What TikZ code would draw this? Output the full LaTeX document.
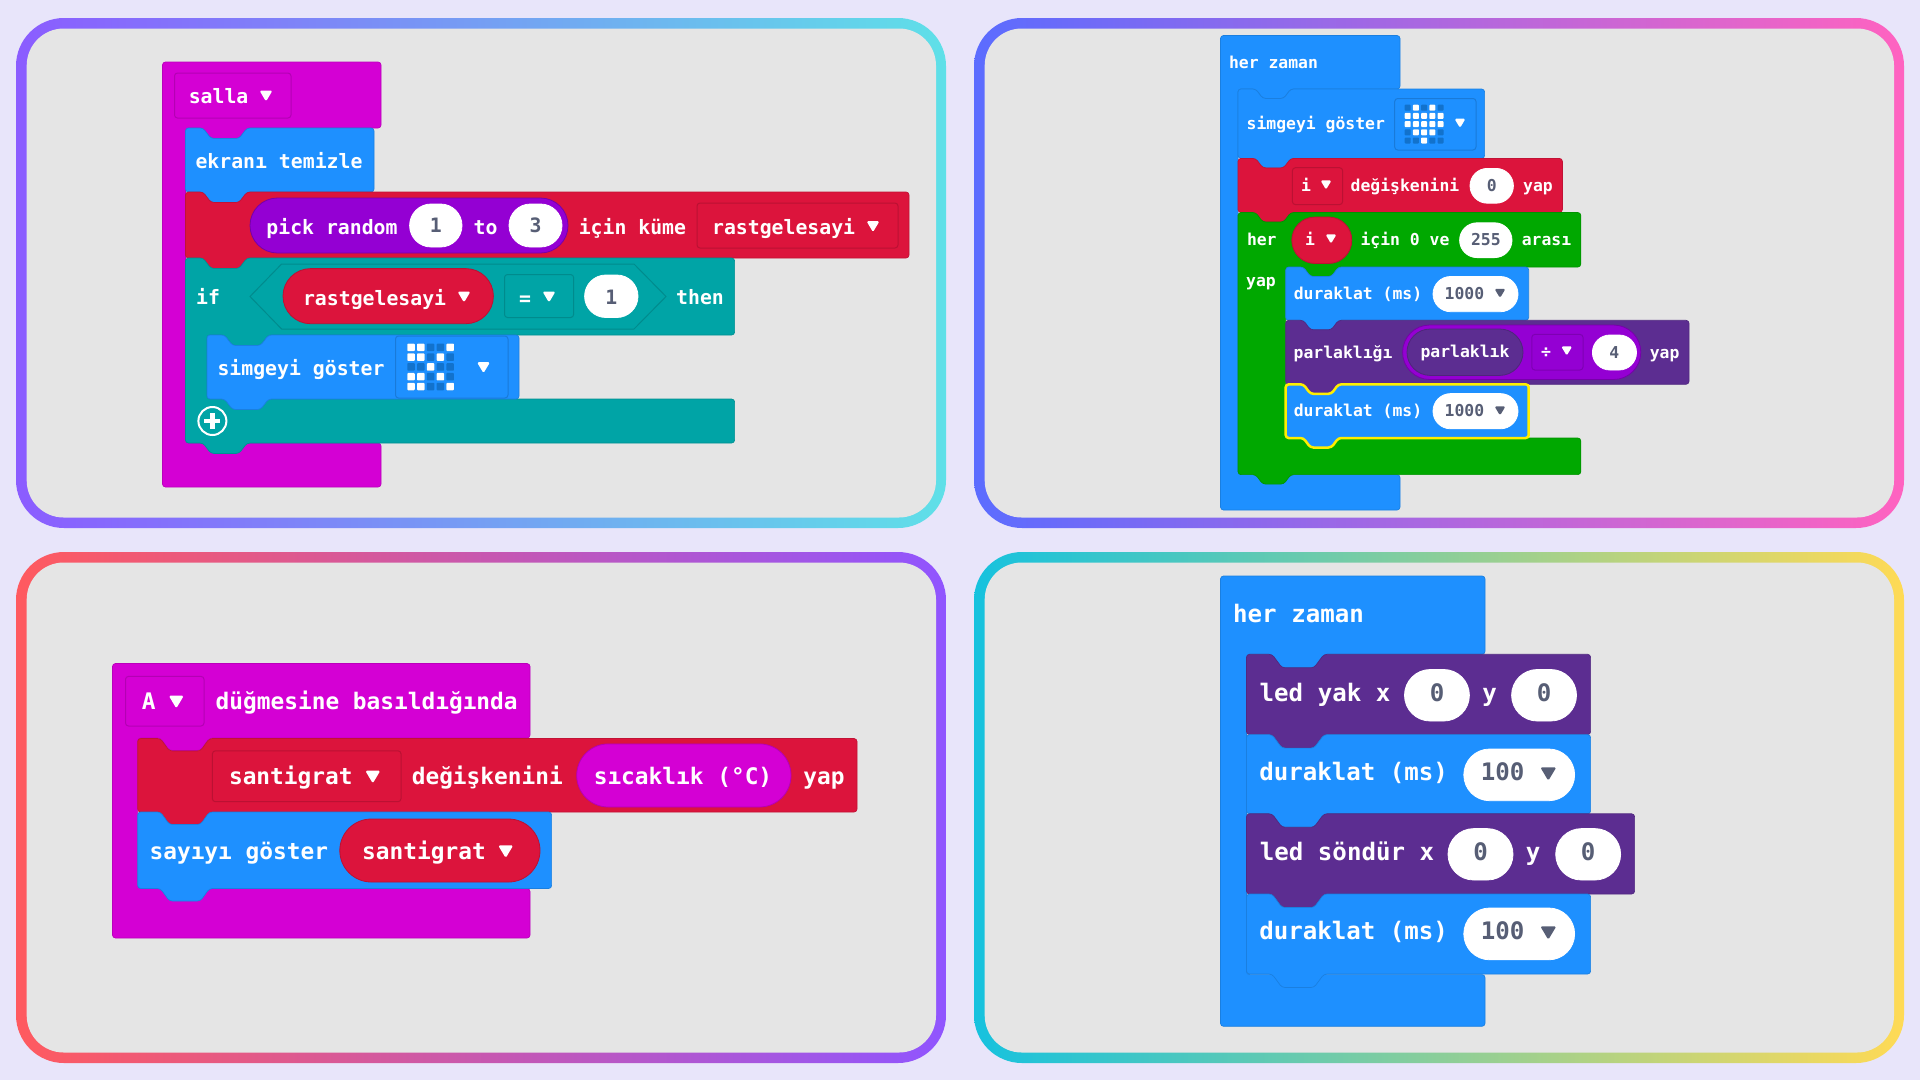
\documentclass[tikz,border=0pt]{standalone}
\usepackage{fontspec}
\newfontfamily\mfont{DejaVu Sans Mono}
\definecolor{bgc}{HTML}{E8E5FA}
\definecolor{panelc}{HTML}{E5E5E5}
\definecolor{cblue}{HTML}{1E90FF}
\definecolor{cred}{HTML}{DC143C}
\definecolor{cgreen}{HTML}{00A800}
\definecolor{cteal}{HTML}{00A4A6}
\definecolor{cmag}{HTML}{D400D4}
\definecolor{cpur}{HTML}{5C2D91}
\definecolor{cvio}{HTML}{9400D3}
\definecolor{cgray}{HTML}{575E75}
\definecolor{ledoff}{HTML}{1272CC}
\definecolor{cyel}{HTML}{FFEE00}
\definecolor{ga}{HTML}{8B5CFF}
\definecolor{gb}{HTML}{5FE0E8}
\definecolor{gc}{HTML}{5B6CFF}
\definecolor{gd}{HTML}{FF63C0}
\definecolor{ge}{HTML}{FF5A5F}
\definecolor{gf}{HTML}{9055FF}
\definecolor{gg}{HTML}{16C2DE}
\definecolor{gh}{HTML}{FFDA55}
\tikzset{
 blk/.style={fill=#1, draw=#1!88!black, line width=.7pt, rounded corners=3pt},
 txtbase/.style={inner sep=0pt, text depth=0pt, anchor=center},
 fa/.style={txtbase, text height=1.29em, font=\mfont\bfseries\fontsize{19.8}{24}\selectfont, text=white},
 fb/.style={txtbase, text height=1.12em, font=\mfont\bfseries\fontsize{16.4}{20}\selectfont, text=white},
 fc/.style={txtbase, text height=1.30em, font=\mfont\bfseries\fontsize{22.8}{27}\selectfont, text=white},
 fd/.style={txtbase, text height=1.34em, font=\mfont\bfseries\fontsize{24.1}{29}\selectfont, text=white},
 dark/.style={text=cgray}
}
\newcount\tn
\newcommand\tx[4]{\global\advance\tn by 1\relax \node[#1] (t\the\tn) at (#2,#3) {#4};}
\newcommand\panel[6]{%
 \shade[left color=#5,right color=#6,rounded corners=48pt] (#1,#2) rectangle (#3,#4);
 \fill[panelc,rounded corners=37pt] ({#1+10.7},{#2+10.5}) rectangle ({#3-10},{#4-10.5});}
\newcommand\stk[6][]{%
 \draw[blk=#2,#1] (#3,#4) -- ({#3+\nx},#4) -- ({#3+\nx+\ni},{#4+\nd}) -- ({#3+\nx+\nw-\ni},{#4+\nd}) -- ({#3+\nx+\nw},#4) -- (#5,#4) -- (#5,#6) -- ({#3+\nx+\nw},#6) -- ({#3+\nx+\nw-\ni},{#6+\nd}) -- ({#3+\nx+\ni},{#6+\nd}) -- ({#3+\nx},#6) -- (#3,#6) -- cycle;}
\newcommand\hatblk[8]{%
 \draw[blk=#1] (#2,#3) -- (#4,#3) -- (#4,#5) -- ({#6+\nx+\nw},#5) -- ({#6+\nx+\nw-\ni},{#5+\nd}) -- ({#6+\nx+\ni},{#5+\nd}) -- ({#6+\nx},#5) -- (#6,#5) -- (#6,#7) -- (#4,#7) -- (#4,#8) -- (#2,#8) -- cycle;}
\newcommand\loopblk[8]{%
 \draw[blk=#1] (#2,#3) -- ({#2+\nx},#3) -- ({#2+\nx+\ni},{#3+\nd}) -- ({#2+\nx+\nw-\ni},{#3+\nd}) -- ({#2+\nx+\nw},#3) -- (#4,#3) -- (#4,#5) -- ({#6+\nx+\nw},#5) -- ({#6+\nx+\nw-\ni},{#5+\nd}) -- ({#6+\nx+\ni},{#5+\nd}) -- ({#6+\nx},#5) -- (#6,#5) -- (#6,#7) -- (#4,#7) -- (#4,#8) -- ({#2+\nx+\nw},#8) -- ({#2+\nx+\nw-\ni},{#8+\nd}) -- ({#2+\nx+\ni},{#8+\nd}) -- ({#2+\nx},#8) -- (#2,#8) -- cycle;}
\newcommand\pill[6]{%
 \pgfmathsetmacro\prad{(#6-#4)/2-0.01}%
 \draw[fill=#1,draw=#2,line width=.8pt,rounded corners=\prad pt] (#3,#4) rectangle (#5,#6);}
\newcommand\ddbox[5]{%
 \draw[#1!85!black,line width=1pt,rounded corners=3pt] (#2,#3) rectangle (#4,#5);}
\newcommand\dn[4]{%
 \fill[#1,rounded corners=1.5pt] ({#2-#4/2},{#3-#4*.42}) -- ({#2+#4/2},{#3-#4*.42}) -- (#2,{#3+#4*.42}) -- cycle;}
\newcommand\leds[5]{%
 \foreach \r in {0,...,4}{\foreach \c in {0,...,4}{
  \fill[ledoff,rounded corners=.8pt] ({#1+\c*#3-#4/2},{#2+\r*#3-#4/2}) rectangle ({#1+\c*#3+#4/2},{#2+\r*#3+#4/2});}}
 \foreach \c/\r in {#5}{
  \fill[white,rounded corners=.8pt] ({#1+\c*#3-#4/2},{#2+\r*#3-#4/2}) rectangle ({#1+\c*#3+#4/2},{#2+\r*#3+#4/2});}}
\begin{document}
\begin{tikzpicture}[x=1pt,y=-1pt]
\useasboundingbox (0,0) rectangle (1920,1080);
\fill[bgc] (0,0) rectangle (1920,1080);
\panel{16}{18}{946}{528}{ga}{gb}
\panel{974}{18}{1904}{528}{gc}{gd}
\panel{16}{552}{946}{1063}{ge}{gf}
\panel{974}{552}{1904}{1063}{gg}{gh}
% ---------- panel 1
\def\nx{17.5}\def\nw{44}\def\nd{10.5}\def\ni{8}
\hatblk{cmag}{162.5}{62}{381}{128}{185.5}{443}{487}
\ddbox{cmag}{174.5}{73}{291}{118}
\tx{fa}{218.6}{97}{salla}
\dn{white}{266}{96}{13}
\stk{cblue}{185.5}{128}{374}{192}
\tx{fa}{279}{162}{ekranı temizle}
\stk{cred}{185.5}{192}{909}{258}
\pill{cvio}{cvio!80!black}{250}{198}{568}{253}
\tx{fa}{332}{228}{pick random}
\pill{white}{white}{409.6}{204}{462}{247}
\tx{fa,dark}{435.8}{226}{1}
\tx{fa}{485.5}{228}{to}
\pill{white}{white}{509}{204}{562}{247}
\tx{fa,dark}{535.5}{226}{3}
\tx{fa}{632.4}{228}{için küme}
\ddbox{cred}{697}{203}{898}{248}
\tx{fa}{783.6}{228}{rastgelesayi}
\dn{white}{873}{226.6}{13}
\loopblk{cteal}{185.5}{258}{734.6}{335}{207}{399}{443}
\draw[cteal!85!black,line width=1pt] (250,296.5) -- (281.6,264) -- (634,264) -- (666,296.5) -- (634,329) -- (281.6,329) -- cycle;
\tx{fa}{208}{298}{if}
\pill{cred}{cred!85!black}{283}{268.6}{493.4}{323.7}
\tx{fa}{374.6}{299}{rastgelesayi}
\dn{white}{464}{297}{13}
\ddbox{cteal}{504.5}{274.5}{573.6}{317.5}
\tx{fa}{525}{299}{=}
\dn{white}{549}{297}{13}
\pill{white}{white}{584.6}{275}{638}{317.5}
\tx{fa,dark}{611.3}{298}{1}
\tx{fa}{700}{298}{then}
\stk{cblue}{207}{335}{519}{399}
\tx{fa}{301}{369}{simgeyi göster}
\ddbox{cblue}{395.5}{336}{508}{398}
\leds{411}{347.3}{9.8}{7.5}{0/0,1/0,4/0,0/1,1/1,3/1,2/2,0/3,1/3,3/3,0/4,1/4,4/4}
\dn{white}{483.5}{367.7}{13}
\draw[white,line width=2pt] (212.4,421) circle (14);
\fill[white] (210,413) rectangle (214.8,429);
\fill[white] (204.4,418.6) rectangle (220.4,423.4);
% ---------- panel 2
\def\nx{17.7}\def\nw{35}\def\nd{9.5}\def\ni{7}
\hatblk{cblue}{1220.5}{35.5}{1400}{89}{1238}{474.6}{510}
\tx{fb}{1273.5}{62.7}{her zaman}
\stk{cblue}{1238}{89}{1484.6}{158.4}
\tx{fb}{1315.8}{124}{simgeyi göster}
\ddbox{cblue}{1394.7}{98.5}{1476}{150}
\leds{1407.7}{107.7}{8.2}{6}{1/0,3/0,0/1,1/1,2/1,3/1,4/1,0/2,1/2,2/2,3/2,4/2,1/3,2/3,3/3,2/4}
\dn{white}{1460}{123.3}{11}
\stk{cred}{1238}{158.4}{1562.4}{212.5}
\ddbox{cred}{1292.4}{167.7}{1342.6}{204.6}
\tx{fb}{1306}{186}{i}
\dn{white}{1326}{185}{11}
\tx{fb}{1405}{186}{değişkenini}
\pill{white}{white}{1470}{168.4}{1513.4}{203.2}
\tx{fb,dark}{1491.7}{186}{0}
\tx{fb}{1538}{186}{yap}
\loopblk{cgreen}{1238}{212.5}{1580.8}{267}{1285.7}{438}{474.6}
\tx{fb}{1261.8}{239.7}{her}
\tx{fb}{1261}{281}{yap}
\pill{cred}{cred!85!black}{1291.8}{217}{1351.8}{263.5}
\tx{fb}{1310}{239.7}{i}
\dn{white}{1331}{239}{11}
\tx{fb}{1405}{239.7}{için 0 ve}
\pill{white}{white}{1459.6}{222.8}{1512}{257.6}
\tx{fb,dark}{1485.8}{240}{255}
\tx{fb}{1546.5}{239.7}{arası}
\stk{cblue}{1285.7}{267}{1528.7}{320.3}
\tx{fb}{1358}{293.4}{duraklat (ms)}
\pill{white}{white}{1433}{276.5}{1518}{311.7}
\tx{fb,dark}{1464.4}{293.4}{1000}
\dn{cgray}{1500}{293.4}{11}
\stk{cpur}{1285.7}{320.3}{1689}{384.3}
\tx{fb}{1343}{353}{parlaklığı}
\pill{cvio}{cvio!80!black}{1402.6}{325}{1640.8}{379.5}
\pill{cpur}{cpur!85!black}{1407}{329}{1523}{375.4}
\tx{fb}{1465}{352.3}{parlaklık}
\ddbox{cvio}{1531.8}{334.4}{1583}{370}
\tx{fb}{1546}{352.3}{÷}
\dn{white}{1566.7}{351}{11}
\pill{white}{white}{1592.4}{335}{1636.5}{370}
\tx{fb,dark}{1614.4}{352.5}{4}
\tx{fb}{1664.6}{353}{yap}
\stk[draw=cyel,line width=2.5pt]{cblue}{1285.7}{384.3}{1528.7}{438}
\tx{fb}{1358}{410.9}{duraklat (ms)}
\pill{white}{white}{1433}{393.6}{1518}{428.8}
\tx{fb,dark}{1464.4}{410.9}{1000}
\dn{cgray}{1500}{410.9}{11}
% ---------- panel 3
\def\nx{22.7}\def\nw{49}\def\nd{12.5}\def\ni{9}
\hatblk{cmag}{112.5}{663.5}{530}{738}{137.7}{888.5}{938}
\ddbox{cmag}{125.5}{676.4}{204}{726}
\tx{fc}{148.8}{703}{A}
\dn{white}{176.3}{702}{15}
\tx{fc}{366.7}{703}{düğmesine basıldığında}
\stk{cred}{137.7}{738.5}{857}{812}
\ddbox{cred}{212.4}{750.8}{401}{801.7}
\tx{fc}{290.8}{778}{santigrat}
\dn{white}{372.8}{777}{15}
\tx{fc}{487.3}{778}{değişkenini}
\pill{cmag}{cmag!85!black}{576.7}{743.9}{791}{807}
\tx{fc}{683}{778}{sıcaklık (°C)}
\tx{fc}{824}{778}{yap}
\stk{cblue}{137.7}{812}{551.6}{888.5}
\tx{fc}{238.8}{853.4}{sayıyı göster}
\pill{cred}{cred!85!black}{339.8}{819}{540}{882}
\tx{fc}{424}{853.4}{santigrat}
\dn{white}{505.7}{851.7}{15}
% ---------- panel 4
\def\nx{25.5}\def\nw{52}\def\nd{13.5}\def\ni{10}
\hatblk{cblue}{1220.5}{576}{1485}{654.3}{1246.5}{974.6}{1026.3}
\tx{fd}{1298.5}{615.8}{her zaman}
\stk{cpur}{1246.5}{654.3}{1590.6}{734.6}
\tx{fd}{1325}{695}{led yak x}
\pill{white}{white}{1404.5}{669.5}{1469.4}{721}
\tx{fd,dark}{1437}{695}{0}
\tx{fd}{1489.6}{695}{y}
\pill{white}{white}{1511.6}{669.5}{1576.5}{721}
\tx{fd,dark}{1544}{695}{0}
\stk{cblue}{1246.5}{734.6}{1590.6}{813.8}
\tx{fd}{1353.6}{774}{duraklat (ms)}
\pill{white}{white}{1463.8}{749}{1574.6}{800.7}
\tx{fd,dark}{1502.5}{774}{100}
\dn{cgray}{1548.3}{774}{16}
\stk{cpur}{1246.5}{813.8}{1634.6}{894}
\tx{fd}{1347}{853.4}{led söndür x}
\pill{white}{white}{1448}{828.6}{1513}{880}
\tx{fd,dark}{1480.5}{853.4}{0}
\tx{fd}{1533}{853.4}{y}
\pill{white}{white}{1555.7}{828.6}{1620.6}{880}
\tx{fd,dark}{1588}{853.4}{0}
\stk{cblue}{1246.5}{894}{1590.6}{974}
\tx{fd}{1353.6}{932.6}{duraklat (ms)}
\pill{white}{white}{1463.8}{908}{1574.6}{959.8}
\tx{fd,dark}{1502.5}{932.6}{100}
\dn{cgray}{1548.3}{933}{16}
\end{tikzpicture}
\end{document}
